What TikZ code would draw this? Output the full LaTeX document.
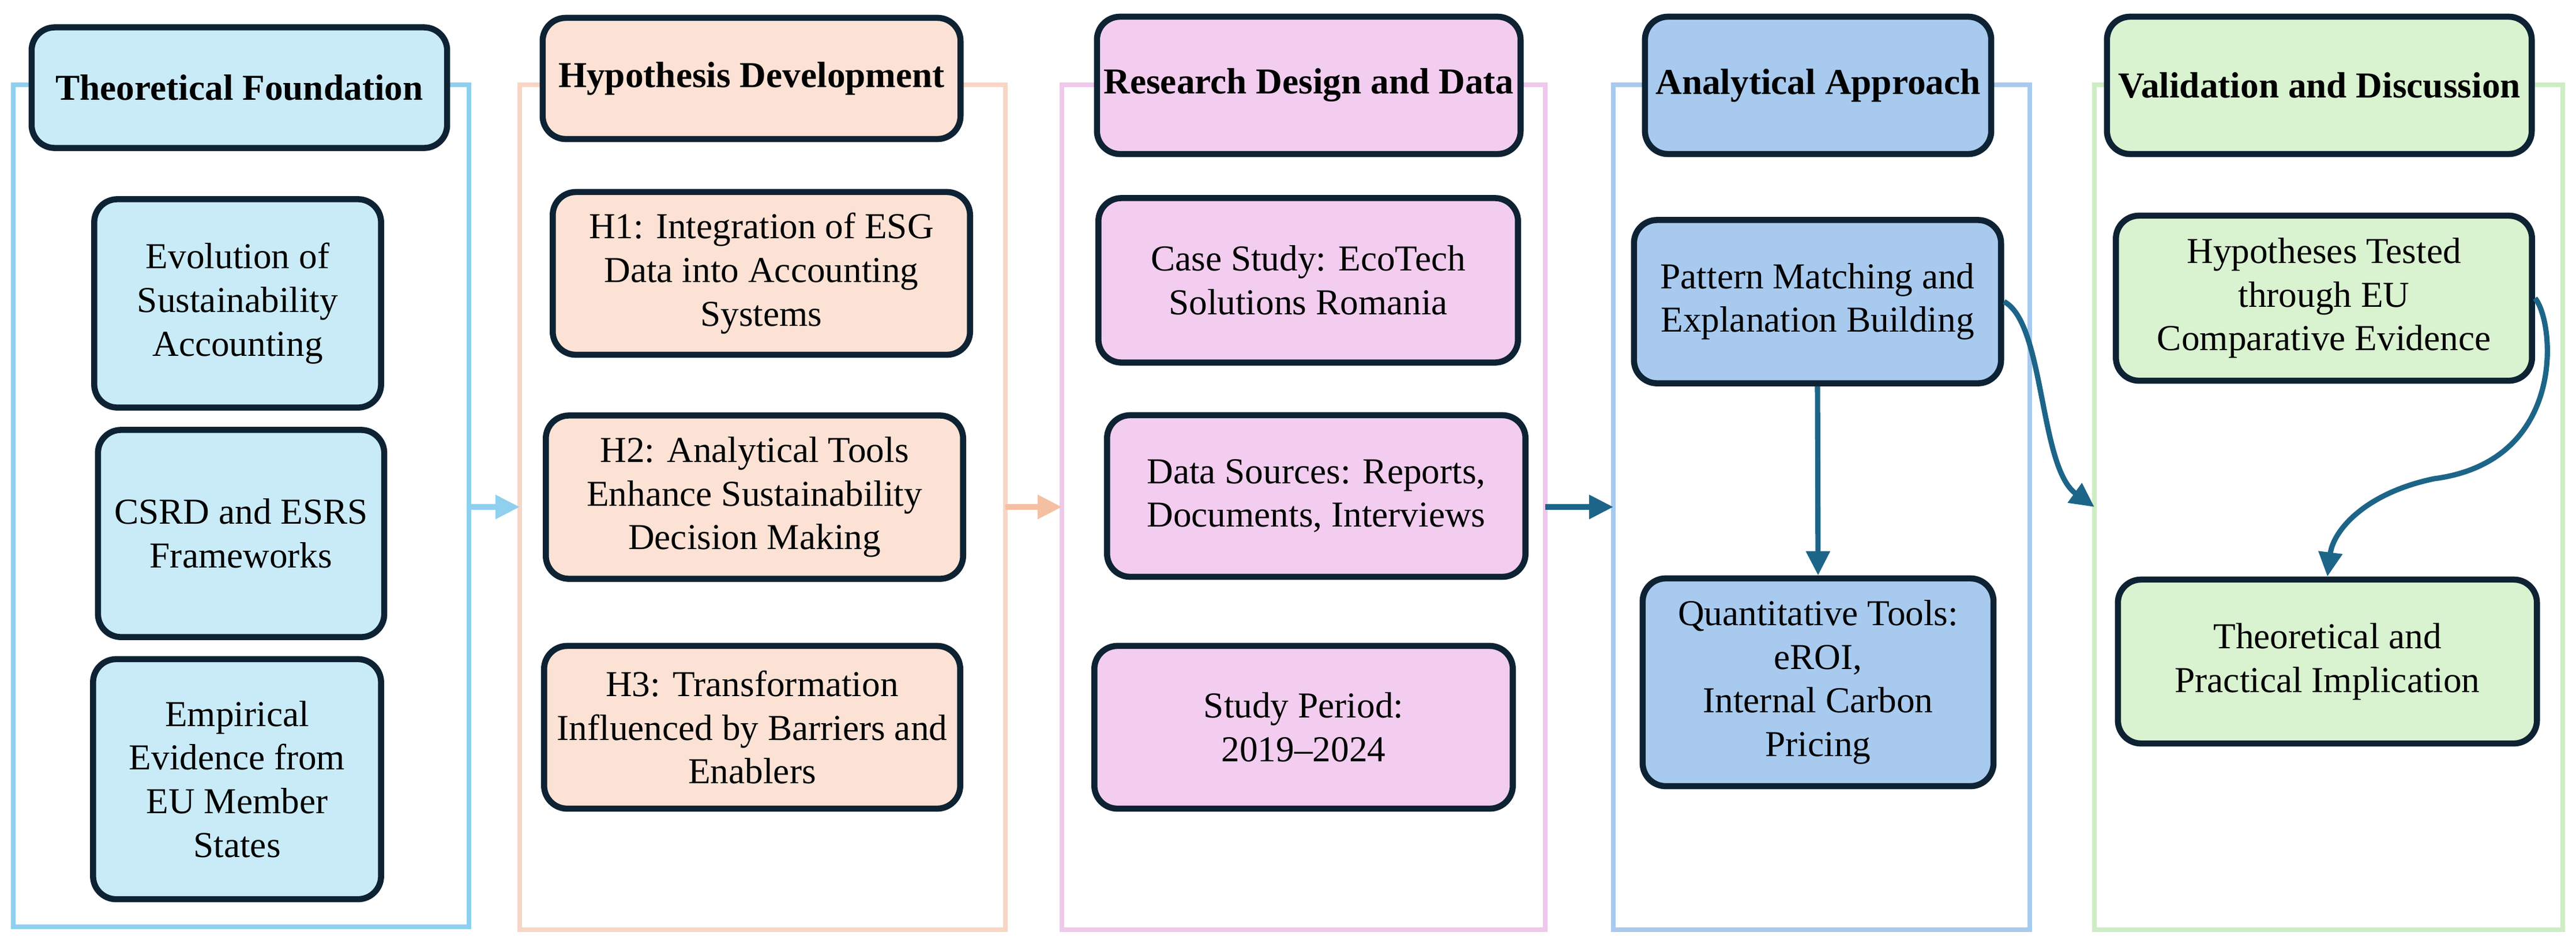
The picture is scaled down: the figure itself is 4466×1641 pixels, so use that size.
\documentclass[tikz,border=0pt]{standalone}
\usepackage{fontspec}
\setmainfont{Liberation Serif}
\usetikzlibrary{arrows.meta}
\definecolor{bd}{HTML}{0D2233}
\definecolor{aD}{HTML}{1D6588}
\definecolor{f1}{HTML}{C9EBF8}\definecolor{r1}{HTML}{8FD0EE}
\definecolor{f2}{HTML}{FBE2D5}\definecolor{r2}{HTML}{F9D6C4}\definecolor{a2}{HTML}{F5C0A2}
\definecolor{f3}{HTML}{F2CDEF}\definecolor{r3}{HTML}{EFC8EC}
\definecolor{f4}{HTML}{A7CAEE}\definecolor{r4}{HTML}{A7CAEE}
\definecolor{f5}{HTML}{D9F2D0}\definecolor{r5}{HTML}{CDEEC2}
\tikzset{
 box/.style={draw=bd,line width=3pt,rounded corners=0.4cm,align=center,inner sep=0pt,
   font=\fontsize{18}{21.5}\selectfont},
 hd/.style={box,font=\bfseries\fontsize{18}{21.5}\selectfont},
 frame/.style={line width=2.4pt},
 arr/.style={line width=2.6pt,-{Triangle[length=0.42cm,width=0.4cm]}},
}
\begin{document}
\begin{tikzpicture}[x=0.01cm,y=-0.01cm]
\useasboundingbox (0,0) rectangle (4466,1641);
% frames
\draw[frame,r1] (23,147) rectangle (813,1607);
\draw[frame,r2] (901,147) rectangle (1743,1612);
\draw[frame,r3] (1841,147) rectangle (2679,1612);
\draw[frame,r4] (2797,147) rectangle (3519,1612);
\draw[frame,r5] (3631,147) rectangle (4443,1612);
\coordinate (f1r) at (813,879); \coordinate (f2l) at (901,879);
\coordinate (f2r) at (1743,879); \coordinate (f3l) at (1841,879);
\coordinate (f3r) at (2679,879); \coordinate (f4l) at (2797,879);
\coordinate (f5l) at (3631,879);
% column 1
\node[hd,fill=f1,minimum width=7.2cm,minimum height=2.09cm] (h1) at (415,152) {Theoretical Foundation};
\node[box,fill=f1,minimum width=4.97cm,minimum height=3.61cm] (a1) at (412,526) {Evolution of\\Sustainability\\Accounting};
\node[box,fill=f1,minimum width=4.96cm,minimum height=3.59cm] (a2) at (418,925) {CSRD and ESRS\\Frameworks};
\node[box,fill=f1,minimum width=4.99cm,minimum height=4.16cm] (a3) at (411,1351) {Empirical\\Evidence from\\EU Member\\States};
% column 2
\node[hd,fill=f2,minimum width=7.24cm,minimum height=2.1cm] (h2) at (1303,136) {Hypothesis Development};
\node[box,fill=f2,minimum width=7.23cm,minimum height=2.82cm] (b1) at (1320,474) {H1: Integration of ESG\\Data into Accounting\\Systems};
\node[box,fill=f2,minimum width=7.23cm,minimum height=2.83cm] (b2) at (1308,862) {H2: Analytical Tools\\Enhance Sustainability\\Decision Making};
\node[box,fill=f2,minimum width=7.21cm,minimum height=2.82cm] (b3) at (1304,1261) {H3: Transformation\\Influenced by Barriers and\\Enablers};
% column 3
\node[hd,fill=f3,minimum width=7.34cm,minimum height=2.38cm] (h3) at (2269,148) {Research Design and Data};
\node[box,fill=f3,minimum width=7.27cm,minimum height=2.85cm] (c1) at (2268,486) {Case Study: EcoTech\\Solutions Romania};
\node[box,fill=f3,minimum width=7.25cm,minimum height=2.8cm] (c2) at (2282,860) {Data Sources: Reports,\\Documents, Interviews};
\node[box,fill=f3,minimum width=7.25cm,minimum height=2.82cm] (c3) at (2260,1261) {Study Period:\\2019--2024};
% column 4
\node[hd,fill=f4,minimum width=6.0cm,minimum height=2.38cm] (h4) at (3152,148) {Analytical Approach};
\node[box,fill=f4,minimum width=6.36cm,minimum height=2.83cm] (d1) at (3151,523) {Pattern Matching and\\Explanation Building};
\node[box,fill=f4,minimum width=6.08cm,minimum height=3.6cm] (d2) at (3152,1183) {Quantitative Tools:\\eROI,\\Internal Carbon\\Pricing};
% column 5
\node[hd,fill=f5,minimum width=7.36cm,minimum height=2.38cm] (h5) at (4021,148) {Validation and Discussion};
\node[box,fill=f5,minimum width=7.21cm,minimum height=2.86cm] (e1) at (4029,517) {Hypotheses Tested\\through EU\\Comparative Evidence};
\node[box,fill=f5,minimum width=7.26cm,minimum height=2.84cm] (e2) at (4035,1147) {Theoretical and\\Practical Implication};
% connectors
\draw[arr,r1] (f1r) -- (f2l);
\draw[arr,a2] (f2r) -- (f3l);
\draw[arr,aD] (f3r) -- (f4l);
\draw[arr,aD] (d1.south) -- (d2.north);
\draw[arr,aD] (d1.east) .. controls (3545,560) and (3535,810) .. (f5l);
\draw[arr,aD] (e1.east) .. controls (4430,560) and (4450,800) .. (4220,830) .. controls (4100,855) and (4045,920) .. (e2.north);
\end{tikzpicture}
\end{document}
